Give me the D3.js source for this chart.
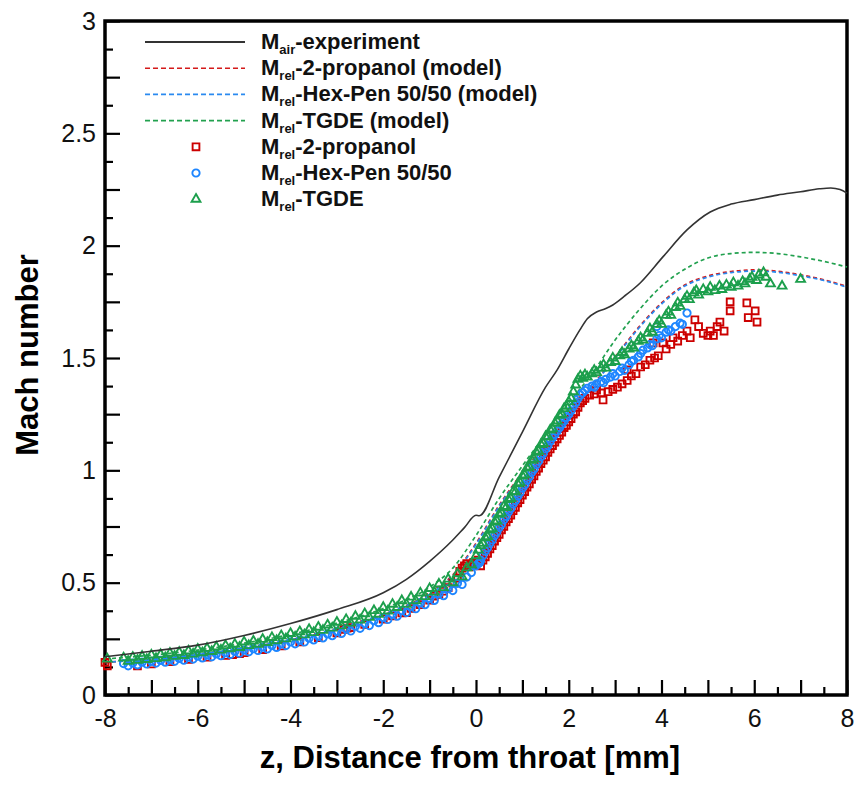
<!DOCTYPE html>
<html>
<head>
<meta charset="utf-8">
<script src="https://cdn.jsdelivr.net/npm/d3@7"></script>
<style>
  body { margin: 0; background: #fff; }
  svg { display: block; }
</style>
</head>
<body>
<div id="chart"></div>
<script>
// Mach number along the nozzle

var airZ = [-8, -7, -6, -5, -4, -3, -2, -1.5, -1, -0.5, -0.25, 0, 0.07, 0.5, 1, 1.5, 1.75, 2, 2.24, 2.4, 2.6, 2.8, 2.95, 3.2, 3.54, 4.03, 4.55, 5.05, 5.5, 6, 6.5, 7, 7.4, 7.65, 7.85, 8];
var airM = [0.17, 0.195, 0.222, 0.265, 0.318, 0.38, 0.455, 0.515, 0.595, 0.69, 0.745, 0.8, 0.798, 0.97, 1.17, 1.37, 1.447, 1.54, 1.625, 1.675, 1.705, 1.72, 1.736, 1.775, 1.834, 1.95, 2.07, 2.15, 2.185, 2.205, 2.225, 2.24, 2.253, 2.257, 2.25, 2.234];

var modelZ = [-8, -6, -4, -3, -2, -1, -0.5, 0, 0.5, 1, 1.5, 2, 2.5, 3, 3.5, 4, 4.5, 5, 5.5, 6, 6.5, 7, 7.5, 8];
var propanolModel = [0.145, 0.18, 0.245, 0.29, 0.355, 0.455, 0.535, 0.675, 0.845, 0.99, 1.115, 1.245, 1.375, 1.505, 1.635, 1.745, 1.825, 1.865, 1.885, 1.892, 1.886, 1.87, 1.848, 1.818];
var hexPenModel = [0.145, 0.18, 0.245, 0.29, 0.355, 0.45, 0.53, 0.67, 0.84, 0.985, 1.11, 1.24, 1.37, 1.50, 1.63, 1.74, 1.82, 1.86, 1.88, 1.887, 1.882, 1.866, 1.845, 1.815];
var tgdeModel = [0.16, 0.2, 0.27, 0.32, 0.385, 0.48, 0.565, 0.71, 0.875, 1.02, 1.16, 1.30, 1.43, 1.58, 1.71, 1.82, 1.895, 1.945, 1.965, 1.97, 1.965, 1.95, 1.93, 1.905];

var propanolPts = [
  [-8.0, 0.145], [-7.95, 0.13], [-7.3, 0.13], [-7.0, 0.138], [-6.6, 0.148], [-6.2, 0.158], [-5.8, 0.168], [-5.4, 0.176],
  [-5.25, 0.18], [-5.1, 0.184], [-5.0, 0.188], [-4.6, 0.202], [-4.2, 0.218], [-3.8, 0.236], [-3.4, 0.255], [-3.0, 0.276],
  [-2.85, 0.292], [-2.78, 0.298], [-2.7, 0.3], [-2.4, 0.314], [-2.0, 0.338], [-1.8, 0.352], [-1.6, 0.365], [-1.5, 0.367],
  [-1.4, 0.385], [-1.2, 0.402], [-1.0, 0.422], [-0.9, 0.44], [-0.8, 0.448], [-0.7, 0.462], [-0.6, 0.478], [-0.5, 0.498],
  [-0.4, 0.52], [-0.35, 0.55], [-0.3, 0.565], [-0.25, 0.575], [-0.2, 0.585], [-0.15, 0.57], [-0.1, 0.58], [-0.05, 0.59],
  [0.0, 0.58], [0.05, 0.6], [0.1, 0.575], [0.15, 0.6], [0.2, 0.615], [0.25, 0.63], [0.3, 0.65], [0.35, 0.665],
  [0.4, 0.685], [0.45, 0.7], [0.5, 0.715], [0.55, 0.735], [0.6, 0.75], [0.65, 0.77], [0.7, 0.785], [0.75, 0.8],
  [0.8, 0.82], [0.85, 0.835], [0.9, 0.855], [0.95, 0.87], [1.0, 0.89], [1.05, 0.905], [1.1, 0.925], [1.15, 0.94],
  [1.2, 0.96], [1.25, 0.975], [1.3, 0.995], [1.35, 1.01], [1.4, 1.03], [1.45, 1.045], [1.5, 1.06], [1.55, 1.08],
  [1.6, 1.095], [1.65, 1.11], [1.7, 1.125], [1.75, 1.14], [1.8, 1.155], [1.85, 1.17], [1.9, 1.19], [1.95, 1.2],
  [2.0, 1.215], [2.05, 1.23], [2.1, 1.25], [2.15, 1.26], [2.2, 1.28], [2.25, 1.3], [2.3, 1.31], [2.35, 1.32],
  [2.45, 1.335], [2.55, 1.34], [2.6, 1.357], [2.7, 1.345], [2.74, 1.313], [2.85, 1.35], [2.95, 1.36], [3.05, 1.37],
  [3.15, 1.385], [3.26, 1.4], [3.26, 1.447], [3.35, 1.42], [3.45, 1.43], [3.55, 1.46], [3.65, 1.47], [3.75, 1.49],
  [3.82, 1.567], [3.85, 1.5], [3.93, 1.51], [4.03, 1.567], [4.1, 1.54], [4.2, 1.56], [4.25, 1.59], [4.35, 1.575],
  [4.45, 1.6], [4.55, 1.62], [4.62, 1.59], [4.72, 1.67], [4.8, 1.64], [4.9, 1.61], [5.0, 1.6], [5.05, 1.62],
  [5.12, 1.6], [5.2, 1.64], [5.26, 1.66], [5.35, 1.62], [5.48, 1.75], [5.48, 1.71], [5.84, 1.745], [5.87, 1.68],
  [6.02, 1.71], [6.06, 1.66]
];

var hexPenPts = [
  [-7.6, 0.14], [-7.5, 0.13], [-7.4, 0.142], [-7.3, 0.134], [-7.2, 0.146], [-7.1, 0.138], [-7.0, 0.15], [-6.9, 0.142],
  [-6.8, 0.154], [-6.7, 0.146], [-6.6, 0.158], [-6.5, 0.15], [-6.4, 0.163], [-6.3, 0.155], [-6.2, 0.168], [-6.1, 0.16],
  [-6.0, 0.173], [-5.9, 0.165], [-5.8, 0.178], [-5.7, 0.17], [-5.6, 0.183], [-5.5, 0.175], [-5.4, 0.188], [-5.3, 0.18],
  [-5.2, 0.194], [-5.1, 0.186], [-5.0, 0.2], [-4.9, 0.192], [-4.8, 0.206], [-4.7, 0.198], [-4.6, 0.213], [-4.5, 0.205],
  [-4.4, 0.22], [-4.3, 0.212], [-4.2, 0.228], [-4.1, 0.22], [-4.0, 0.236], [-3.9, 0.228], [-3.8, 0.244], [-3.7, 0.236],
  [-3.6, 0.253], [-3.5, 0.245], [-3.4, 0.262], [-3.3, 0.254], [-3.2, 0.272], [-3.1, 0.264], [-3.0, 0.283], [-2.9, 0.274],
  [-2.8, 0.294], [-2.7, 0.285], [-2.6, 0.306], [-2.5, 0.297], [-2.4, 0.318], [-2.3, 0.309], [-2.2, 0.331], [-2.1, 0.322],
  [-2.0, 0.345], [-1.9, 0.336], [-1.8, 0.36], [-1.7, 0.351], [-1.6, 0.376], [-1.5, 0.367], [-1.4, 0.393], [-1.3, 0.384],
  [-1.2, 0.411], [-1.1, 0.402], [-1.0, 0.43], [-0.9, 0.421], [-0.8, 0.451], [-0.7, 0.442], [-0.6, 0.473], [-0.5, 0.465],
  [-0.4, 0.497], [-0.3, 0.492], [-0.2, 0.525], [-0.1, 0.545], [0.0, 0.575], [0.05, 0.585], [0.08, 0.59], [0.1, 0.6],
  [0.15, 0.62], [0.2, 0.64], [0.25, 0.655], [0.3, 0.675], [0.35, 0.69], [0.4, 0.71], [0.45, 0.725], [0.5, 0.745],
  [0.55, 0.76], [0.6, 0.78], [0.65, 0.795], [0.7, 0.815], [0.75, 0.83], [0.8, 0.85], [0.85, 0.865], [0.9, 0.885],
  [0.95, 0.9], [1.0, 0.92], [1.05, 0.935], [1.1, 0.955], [1.15, 0.97], [1.2, 0.99], [1.25, 1.005], [1.3, 1.025],
  [1.35, 1.04], [1.4, 1.06], [1.45, 1.075], [1.5, 1.095], [1.55, 1.11], [1.6, 1.13], [1.65, 1.145], [1.7, 1.16],
  [1.75, 1.175], [1.8, 1.19], [1.85, 1.205], [1.9, 1.22], [1.95, 1.235], [2.0, 1.25], [2.05, 1.265], [2.1, 1.285],
  [2.15, 1.3], [2.2, 1.32], [2.25, 1.335], [2.3, 1.345], [2.35, 1.355], [2.4, 1.365], [2.5, 1.375], [2.55, 1.37],
  [2.6, 1.385], [2.7, 1.395], [2.75, 1.39], [2.8, 1.405], [2.9, 1.415], [2.95, 1.43], [3.0, 1.42], [3.1, 1.44],
  [3.15, 1.455], [3.2, 1.445], [3.3, 1.47], [3.35, 1.485], [3.4, 1.49], [3.5, 1.505], [3.55, 1.52], [3.6, 1.535],
  [3.7, 1.545], [3.75, 1.56], [3.8, 1.555], [3.9, 1.585], [3.9, 1.64], [3.95, 1.6], [4.0, 1.59], [4.1, 1.615],
  [4.15, 1.625], [4.2, 1.62], [4.3, 1.64], [4.4, 1.655], [4.45, 1.65], [4.55, 1.7]
];

var tgdePts = [
  [-7.95, 0.16], [-7.6, 0.165], [-7.5, 0.15], [-7.4, 0.168], [-7.3, 0.155], [-7.2, 0.172], [-7.1, 0.158], [-7.0, 0.178],
  [-6.9, 0.162], [-6.8, 0.18], [-6.7, 0.166], [-6.6, 0.186], [-6.5, 0.172], [-6.4, 0.19], [-6.3, 0.176], [-6.2, 0.196],
  [-6.1, 0.182], [-6.0, 0.204], [-5.9, 0.188], [-5.8, 0.208], [-5.7, 0.194], [-5.6, 0.214], [-5.5, 0.2], [-5.4, 0.22],
  [-5.3, 0.206], [-5.2, 0.226], [-5.1, 0.212], [-5.0, 0.236], [-4.9, 0.22], [-4.8, 0.24], [-4.7, 0.226], [-4.6, 0.248],
  [-4.5, 0.234], [-4.4, 0.256], [-4.3, 0.242], [-4.2, 0.264], [-4.1, 0.25], [-4.0, 0.274], [-3.9, 0.258], [-3.8, 0.282],
  [-3.7, 0.268], [-3.6, 0.292], [-3.5, 0.278], [-3.4, 0.302], [-3.3, 0.288], [-3.2, 0.312], [-3.1, 0.298], [-3.0, 0.324],
  [-2.9, 0.308], [-2.8, 0.336], [-2.7, 0.32], [-2.6, 0.35], [-2.5, 0.334], [-2.4, 0.362], [-2.3, 0.346], [-2.2, 0.376],
  [-2.1, 0.36], [-2.0, 0.39], [-1.9, 0.374], [-1.8, 0.404], [-1.7, 0.39], [-1.6, 0.42], [-1.5, 0.404], [-1.4, 0.436],
  [-1.3, 0.42], [-1.2, 0.454], [-1.1, 0.438], [-1.0, 0.474], [-0.9, 0.458], [-0.8, 0.494], [-0.7, 0.478], [-0.6, 0.516],
  [-0.5, 0.5], [-0.4, 0.54], [-0.3, 0.526], [-0.2, 0.566], [-0.1, 0.58], [0.0, 0.62], [0.05, 0.645], [0.1, 0.665],
  [0.15, 0.675], [0.2, 0.7], [0.25, 0.705], [0.3, 0.735], [0.35, 0.74], [0.4, 0.77], [0.45, 0.775], [0.5, 0.805],
  [0.55, 0.81], [0.6, 0.84], [0.65, 0.835], [0.7, 0.87], [0.75, 0.875], [0.8, 0.905], [0.85, 0.905], [0.9, 0.94],
  [0.95, 0.945], [1.0, 0.975], [1.05, 0.98], [1.1, 1.01], [1.15, 1.015], [1.2, 1.045], [1.25, 1.05], [1.3, 1.08],
  [1.35, 1.085], [1.4, 1.115], [1.45, 1.12], [1.5, 1.15], [1.55, 1.15], [1.6, 1.18], [1.65, 1.185], [1.7, 1.21],
  [1.75, 1.22], [1.8, 1.245], [1.85, 1.25], [1.9, 1.275], [1.95, 1.285], [2.0, 1.305], [2.05, 1.32], [2.1, 1.35],
  [2.15, 1.38], [2.2, 1.405], [2.25, 1.42], [2.3, 1.41], [2.35, 1.425], [2.4, 1.415], [2.5, 1.43], [2.55, 1.445],
  [2.6, 1.435], [2.7, 1.455], [2.75, 1.47], [2.8, 1.455], [2.9, 1.48], [2.95, 1.5], [3.0, 1.485], [3.1, 1.51],
  [3.15, 1.525], [3.2, 1.515], [3.3, 1.54], [3.35, 1.555], [3.4, 1.545], [3.5, 1.575], [3.55, 1.59], [3.6, 1.58],
  [3.7, 1.61], [3.75, 1.63], [3.8, 1.615], [3.9, 1.65], [3.95, 1.665], [4.0, 1.65], [4.1, 1.69], [4.15, 1.705],
  [4.2, 1.69], [4.3, 1.725], [4.35, 1.745], [4.4, 1.73], [4.5, 1.76], [4.55, 1.775], [4.6, 1.76], [4.7, 1.79],
  [4.75, 1.8], [4.8, 1.78], [4.9, 1.805], [5.0, 1.795], [5.05, 1.815], [5.15, 1.8], [5.25, 1.82], [5.3, 1.805],
  [5.4, 1.825], [5.5, 1.815], [5.55, 1.835], [5.65, 1.82], [5.75, 1.84], [5.8, 1.83], [5.9, 1.85], [5.95, 1.86],
  [6.05, 1.845], [6.1, 1.87], [6.2, 1.88], [6.25, 1.86], [6.35, 1.83], [6.6, 1.82], [7.0, 1.85]
];

var xTicks = [-8, -7, -6, -5, -4, -3, -2, -1, 0, 1, 2, 3, 4, 5, 6, 7, 8];
var xMinorTicks = [-7.5, -6.5, -5.5, -4.5, -3.5, -2.5, -1.5, -0.5, 0.5, 1.5, 2.5, 3.5, 4.5, 5.5, 6.5, 7.5];
var yTicks = [0, 0.25, 0.5, 0.75, 1, 1.25, 1.5, 1.75, 2, 2.25, 2.5, 2.75, 3];
var yMinorTicks = [0.125, 0.375, 0.625, 0.875, 1.125, 1.375, 1.625, 1.875, 2.125, 2.375, 2.625, 2.875];

var RED = '#d41a1a', BLUE = '#2a8af0', GREEN = '#22a14f';
var RED_PT = '#cc0000', BLUE_PT = '#1e86ff', GREEN_PT = '#1c9f4c';

var width = 859, height = 789;
var margin = { top: 21, right: 12, bottom: 94, left: 105 };

var svg = d3.select('#chart').append('svg')
  .attr('width', width)
  .attr('height', height);

var x = d3.scaleLinear().domain([-8, 8]).range([margin.left, width - margin.right]);
var y = d3.scaleLinear().domain([0, 3]).range([height - margin.bottom, margin.top]);

var tickFont = '"Liberation Sans", Arial, sans-serif';

// x axis, ticks point inside
svg.append('g')
  .attr('transform', 'translate(0,' + y(0) + ')')
  .call(d3.axisBottom(x).tickValues(xTicks).tickSize(-15).tickPadding(14)
    .tickFormat(function (d) { return d % 2 === 0 ? d : ''; }));
svg.append('g')
  .attr('transform', 'translate(0,' + y(0) + ')')
  .call(d3.axisBottom(x).tickValues(xMinorTicks).tickSize(-8).tickFormat(''));

svg.append('g')
  .attr('transform', 'translate(' + x(-8) + ',0)')
  .call(d3.axisLeft(y).tickValues(yTicks).tickSize(-15).tickPadding(9)
    .tickFormat(function (d) { return (d * 2) % 1 === 0 ? d : ''; }));
svg.append('g')
  .attr('transform', 'translate(' + x(-8) + ',0)')
  .call(d3.axisLeft(y).tickValues(yMinorTicks).tickSize(-8).tickFormat(''));

svg.selectAll('.domain').remove();
svg.selectAll('.tick line').attr('stroke', '#000').attr('stroke-width', 2.2);
svg.selectAll('.tick text')
  .attr('font-family', tickFont)
  .attr('font-size', 25)
  .attr('fill', '#111');

// frame
svg.append('rect')
  .attr('x', x(-8))
  .attr('y', y(3))
  .attr('width', x(8) - x(-8))
  .attr('height', y(0) - y(3))
  .attr('fill', 'none')
  .attr('stroke', '#000')
  .attr('stroke-width', 3.5);

// axis titles
svg.append('text')
  .attr('x', (x(-8) + x(8)) / 2 - 6)
  .attr('y', 768)
  .attr('text-anchor', 'middle')
  .attr('font-family', 'Arial, "Liberation Sans", sans-serif')
  .attr('font-weight', 'bold')
  .attr('font-size', 31)
  .text('z, Distance from throat [mm]');

svg.append('text')
  .attr('transform', 'translate(38,' + 355 + ') rotate(-90)')
  .attr('text-anchor', 'middle')
  .attr('font-family', 'Arial, "Liberation Sans", sans-serif')
  .attr('font-weight', 'bold')
  .attr('font-size', 31)
  .text('Mach number');

var plot = svg.append('g');

var line = d3.line()
  .x(function (d) { return x(d[0]); })
  .y(function (d) { return y(d[1]); })
  .curve(d3.curveMonotoneX);

function pair(zs, ms) {
  return zs.map(function (z, i) { return [z, ms[i]]; });
}

var models = [
  { values: propanolModel, color: RED },
  { values: hexPenModel, color: BLUE },
  { values: tgdeModel, color: GREEN }
];

models.forEach(function (m) {
  plot.append('path')
    .datum(pair(modelZ, m.values))
    .attr('d', line)
    .attr('fill', 'none')
    .attr('stroke', m.color)
    .attr('stroke-width', 1.7)
    .attr('stroke-dasharray', '4,3');
});

// measured points
var symSquare = d3.symbol().type(d3.symbolSquare).size(46);
var symCircle = d3.symbol().type(d3.symbolCircle).size(42);
var symTriangle = d3.symbol().type(d3.symbolTriangle).size(34);

var series = [
  { pts: propanolPts, sym: symSquare, color: RED_PT },
  { pts: hexPenPts, sym: symCircle, color: BLUE_PT },
  { pts: tgdePts, sym: symTriangle, color: GREEN_PT }
];

series.forEach(function (s) {
  plot.append('g').selectAll('path')
    .data(s.pts)
    .enter().append('path')
    .attr('d', s.sym)
    .attr('transform', function (d) { return 'translate(' + x(d[0]) + ',' + y(d[1]) + ')'; })
    .attr('fill', 'none')
    .attr('stroke', s.color)
    .attr('stroke-width', 1.9);
});

plot.append('path')
  .datum(pair(airZ, airM))
  .attr('d', line)
  .attr('fill', 'none')
  .attr('stroke', '#333')
  .attr('stroke-width', 1.6);

// legend
var legendItems = [
  { sub: 'air', label: '-experiment', kind: 'line', color: '#333' },
  { sub: 'rel', label: '-2-propanol (model)', kind: 'dash', color: RED },
  { sub: 'rel', label: '-Hex-Pen 50/50 (model)', kind: 'dash', color: BLUE },
  { sub: 'rel', label: '-TGDE (model)', kind: 'dash', color: GREEN },
  { sub: 'rel', label: '-2-propanol', kind: 'sym', sym: symSquare, color: RED_PT },
  { sub: 'rel', label: '-Hex-Pen 50/50', kind: 'sym', sym: symCircle, color: BLUE_PT },
  { sub: 'rel', label: '-TGDE', kind: 'sym', sym: symTriangle, color: GREEN_PT }
];

var legend = svg.append('g');
legendItems.forEach(function (d, i) {
  var cy = 42 + i * 26.2;
  if (d.kind === 'sym') {
    legend.append('path')
      .attr('d', d.sym)
      .attr('transform', 'translate(196,' + cy + ')')
      .attr('fill', 'none')
      .attr('stroke', d.color)
      .attr('stroke-width', 1.9);
  } else {
    legend.append('line')
      .attr('x1', 145).attr('x2', 245)
      .attr('y1', cy).attr('y2', cy)
      .attr('stroke', d.color)
      .attr('stroke-width', d.kind === 'line' ? 1.8 : 1.6)
      .attr('stroke-dasharray', d.kind === 'dash' ? '5,3' : null);
  }
  var t = legend.append('text')
    .attr('x', 261)
    .attr('y', cy + 7)
    .attr('font-family', 'Arial, "Liberation Sans", sans-serif')
    .attr('font-weight', 'bold')
    .attr('font-size', 22)
    .attr('fill', '#111');
  t.append('tspan').text('M');
  t.append('tspan').attr('font-size', 13).attr('dy', 5).text(d.sub);
  t.append('tspan').attr('dy', -5).text(d.label);
});
</script>
</body>
</html>
